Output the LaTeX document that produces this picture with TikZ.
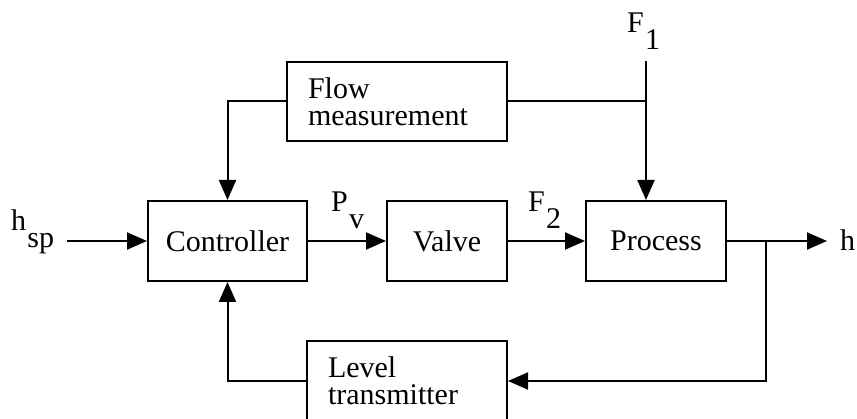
\documentclass[tikz,border=0pt]{standalone}
\usepackage{fontspec}
\setmainfont{Liberation Serif}
\usetikzlibrary{arrows.meta}
\newcommand{\lowsub}[1]{\hspace{0.05em}\raisebox{-0.55em}{#1}}
\begin{document}
\begin{tikzpicture}[x={(1pt,0)},y={(0,-1pt)},line width=2pt,
	font=\fontsize{30}{27}\selectfont,
	block/.style={draw,inner sep=0pt,minimum height=80pt},
	textblock/.style={draw,align=left,inner xsep=21pt,inner ysep=0pt,text width=#1,minimum height=80pt},
	sig/.style={-{Triangle[length=20pt,width=17pt]}}]
	\useasboundingbox (0,0) rectangle (857,419);
	\node[block,minimum width=159pt] (ctrl) at (227.5,241) {Controller};
	\node[block,minimum width=120pt] (valve) at (447,241) {Valve};
	\node[block,minimum width=140pt] (proc) at (656,241) {Process};
	\node[textblock=178pt,minimum height=79pt] (flow) at (397,101.5) {Flow\\measurement};
	\node[textblock=158pt] (level) at (407,381) {Level\\transmitter};
	\coordinate (hin) at (67,241);
	\coordinate (hout) at (827,241);
	\coordinate (fone) at (646,61);
	\coordinate (tap) at (766,241);
	\draw [sig] (hin) -- (ctrl.west);
	\draw [sig] (ctrl.east) -- (valve.west);
	\draw [sig] (valve.east) -- (proc.west);
	\draw [sig] (proc.east) -- (hout);
	\draw [sig] (fone) -- (fone |- proc.north);
	\draw (flow.east) -- (fone |- flow.east);
	\draw [sig] (flow.west) -| (ctrl.north);
	\draw [sig] (tap) |- (level.east);
	\draw [sig] (level.west) -| (ctrl.south);
	\node[anchor=base west,inner sep=0pt] (hsp) at (10,231) {h\lowsub{sp}};
	\node[anchor=base west,inner sep=0pt] (pv) at (330,212) {P\lowsub{v}};
	\node[anchor=base west,inner sep=0pt] (ftwo) at (527,212) {F\lowsub{2}};
	\node[anchor=base west,inner sep=0pt] (fonelabel) at (626,33) {F\lowsub{1}};
	\node[anchor=base west,inner sep=0pt] (h) at (839,251) {h};
\end{tikzpicture}
\end{document}
